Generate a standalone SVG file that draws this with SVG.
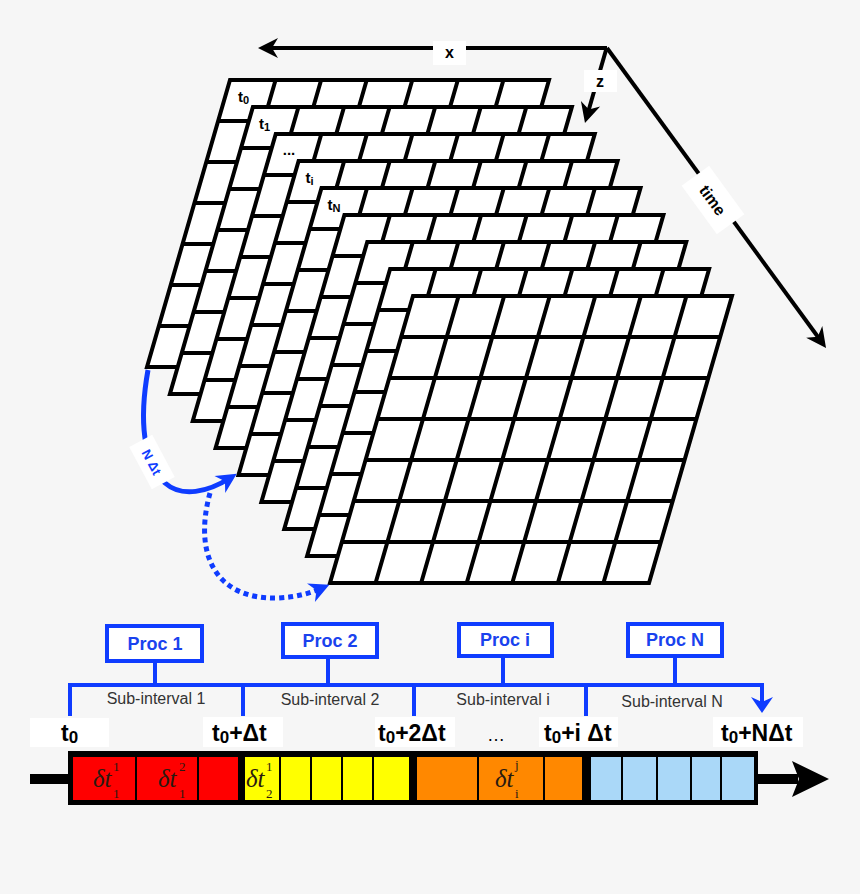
<svg xmlns="http://www.w3.org/2000/svg" xmlns:xlink="http://www.w3.org/1999/xlink" width="860" height="894" viewBox="0 0 860 894">
<style>
.bg{fill:#f6f6f6}
.sheet{fill:#fff;stroke:#000;stroke-width:4;stroke-linejoin:miter}
.gridl{fill:none;stroke:#000;stroke-width:4}
.lbl{font-family:"Liberation Sans",Arial,sans-serif;font-weight:bold;font-size:15px;fill:#000}
.ax{fill:none;stroke:#000;stroke-width:4}
.axt{font-family:"Liberation Sans",Arial,sans-serif;font-weight:bold;font-size:16px;fill:#000;text-anchor:middle}
.wbox{fill:#fff}
.blue{fill:none;stroke:#0f3cff;stroke-width:5}
.proc{fill:#fff;stroke:#0f3cff;stroke-width:4}
.proct{font-family:"Liberation Sans",Arial,sans-serif;font-weight:bold;font-size:18px;fill:#1a42ee;text-anchor:middle}
.sub{font-family:"Liberation Sans",Arial,sans-serif;font-size:16px;fill:#333;text-anchor:middle}
.tl{font-family:"Liberation Sans",Arial,sans-serif;font-weight:bold;font-size:23px;fill:#000}
.dt{font-family:"Liberation Serif","Times New Roman",serif;font-style:italic;font-size:25px;fill:#2a1a10}
.dts{font-family:"Liberation Serif","Times New Roman",serif;font-size:13px;fill:#2a1a10}
</style>
<defs>
<marker id="ahK" markerUnits="userSpaceOnUse" viewBox="-14 -12 24 24" markerWidth="24" markerHeight="24" refX="0" refY="0" orient="auto">
<path d="M8,0 L-12,-10 L-6,0 L-12,10 Z" fill="#000"/>
</marker>
<marker id="ahB" markerUnits="userSpaceOnUse" viewBox="-14 -12 24 24" markerWidth="24" markerHeight="24" refX="0" refY="0" orient="auto">
<path d="M8,0 L-12,-10 L-6,0 L-12,10 Z" fill="#0f3cff"/>
</marker>
<g id="grid">
<polygon class="sheet" points="0,0 319,0 236,287 -83,287"/>
<path class="gridl" d="M-11.86,41H307.14M-23.71,82H295.29M-35.57,123H283.43M-47.43,164H271.57M-59.29,205H259.71M-71.14,246H247.86M45.57,0L-37.43,287M91.14,0L8.14,287M136.71,0L53.71,287M182.29,0L99.29,287M227.86,0L144.86,287M273.43,0L190.43,287"/>
</g>
</defs>
<rect class="bg" x="0" y="0" width="860" height="894"/>

<g id="layer-t0" transform="translate(230,80)"><use xlink:href="#grid"/><text class="lbl" x="8" y="22">t<tspan font-size="11" dy="2">0</tspan></text></g>
<g id="layer-t1" transform="translate(252.9,107)"><use xlink:href="#grid"/><text class="lbl" x="6" y="22">t<tspan font-size="11" dy="2">1</tspan></text></g>
<g id="layer-dots" transform="translate(275.75,134)"><use xlink:href="#grid"/><text class="lbl" x="7" y="21">...</text></g>
<g id="layer-ti" transform="translate(298.6,161)"><use xlink:href="#grid"/><text class="lbl" x="7" y="22">t<tspan font-size="11" dy="2">i</tspan></text></g>
<g id="layer-tN" transform="translate(321.5,188)"><use xlink:href="#grid"/><text class="lbl" x="6" y="22">t<tspan font-size="11" dy="2">N</tspan></text></g>
<g id="layer-5" transform="translate(344.4,215)"><use xlink:href="#grid"/></g>
<g id="layer-6" transform="translate(367.25,242)"><use xlink:href="#grid"/></g>
<g id="layer-7" transform="translate(390.1,269)"><use xlink:href="#grid"/></g>
<g id="layer-8" transform="translate(413,296)"><use xlink:href="#grid"/></g>

<g id="axes">
<path class="ax" d="M607,48 L266,48" marker-end="url(#ahK)"/>
<path class="ax" d="M606,50 L587.2,115.3" marker-end="url(#ahK)"/>
<path class="ax" d="M607,48 L821.3,341.5" marker-end="url(#ahK)"/>
<rect class="wbox" x="433" y="41" width="33" height="24"/>
<text class="axt" x="449.5" y="58">x</text>
<rect class="wbox" x="584" y="70" width="33" height="22"/>
<text class="axt" x="600" y="87">z</text>
<g transform="translate(713,200) rotate(54)">
<rect class="wbox" x="-30" y="-17" width="60" height="34"/>
<text class="axt" x="0" y="6">time</text>
</g>
</g>

<g id="connectors">
<path class="blue" d="M148,370 C139,420 143,462 165,483 C182,498 208,492 230,478" marker-end="url(#ahB)"/>
<path class="blue" d="M210,493 C193,555 216,600 278,598 C296,597 308,594 322,588" stroke-dasharray="5,4" marker-end="url(#ahB)"/>
<g transform="translate(152,462) rotate(62)">
<rect class="wbox" x="-24" y="-13" width="48" height="26"/>
<text x="0" y="5" text-anchor="middle" font-family="Liberation Sans,Arial,sans-serif" font-weight="bold" font-size="13" fill="#0f3cff">N Δt</text>
</g>
<path fill="none" stroke="#0f3cff" stroke-width="4" d="M155,661V685M328,657V685M503,656V685M675,656V685M70,716V685H762V703M243,685V716M414,685V716M586,685V716"/>
<polygon fill="#0f3cff" points="762,713 751,697 762,702 773,697"/>
</g>

<g id="proc-1"><rect class="proc" x="107" y="626" width="95" height="35"/><text class="proct" x="155" y="650">Proc 1</text></g>
<g id="proc-2"><rect class="proc" x="283" y="624" width="94" height="33"/><text class="proct" x="330" y="647">Proc 2</text></g>
<g id="proc-i"><rect class="proc" x="459" y="624" width="93" height="32"/><text class="proct" x="505" y="646">Proc i</text></g>
<g id="proc-N"><rect class="proc" x="628" y="624" width="94" height="32"/><text class="proct" x="675" y="646">Proc N</text></g>

<g id="subintervals">
<text class="sub" x="156" y="704">Sub-interval 1</text>
<text class="sub" x="330" y="705">Sub-interval 2</text>
<text class="sub" x="503" y="705">Sub-interval i</text>
<text class="sub" x="672" y="707">Sub-interval N</text>
</g>

<g id="time-labels">
<rect class="wbox" x="30" y="718" width="79" height="29"/>
<text class="tl" x="61" y="741">t<tspan font-size="17" dy="2">0</tspan></text>
<rect class="wbox" x="203" y="717" width="80" height="30"/>
<text class="tl" x="212" y="741">t<tspan font-size="17" dy="2">0</tspan><tspan dy="-2">+Δt</tspan></text>
<rect class="wbox" x="375" y="717" width="80" height="30"/>
<text class="tl" x="378" y="741">t<tspan font-size="17" dy="2">0</tspan><tspan dy="-2">+2Δt</tspan></text>
<text x="487" y="741" font-family="Liberation Sans,Arial,sans-serif" font-size="18" fill="#000">…</text>
<rect class="wbox" x="539" y="717" width="79" height="30"/>
<text class="tl" x="544" y="741">t<tspan font-size="17" dy="2">0</tspan><tspan dy="-2">+i Δt</tspan></text>
<rect class="wbox" x="713" y="717" width="90" height="30"/>
<text class="tl" x="721" y="741">t<tspan font-size="17" dy="2">0</tspan><tspan dy="-2">+NΔt</tspan></text>
</g>

<g id="timeline">
<rect x="30" y="774" width="40" height="10" fill="#000"/>
<rect x="756" y="774" width="42" height="10" fill="#000"/>
<polygon points="829,779 792,761 799,779 792,797" fill="#000"/>
<rect x="68" y="751" width="690" height="54" fill="#000"/>
<g fill="#ff0000">
<rect x="73" y="757" width="62" height="43"/><rect x="137" y="757" width="60" height="43"/><rect x="199" y="757" width="39" height="43"/>
</g>
<g fill="#ffff00">
<rect x="245" y="757" width="34" height="43"/><rect x="281" y="757" width="29" height="43"/><rect x="312" y="757" width="29" height="43"/><rect x="343" y="757" width="29" height="43"/><rect x="374" y="757" width="35" height="43"/>
</g>
<g fill="#ff8800">
<rect x="417" y="757" width="60" height="43"/><rect x="479" y="757" width="64" height="43"/><rect x="545" y="757" width="37" height="43"/>
</g>
<g fill="#aad8f8">
<rect x="591" y="757" width="30" height="43"/><rect x="623" y="757" width="33" height="43"/><rect x="658" y="757" width="32" height="43"/><rect x="692" y="757" width="28" height="43"/><rect x="722" y="757" width="32" height="43"/>
</g>
<text class="dt" x="93" y="787">δt</text><text class="dts" x="113" y="771">1</text><text class="dts" x="113" y="798">1</text>
<text class="dt" x="158" y="787">δt</text><text class="dts" x="179" y="771">2</text><text class="dts" x="179" y="798">1</text>
<text class="dt" x="246" y="787">δt</text><text class="dts" x="266" y="771">1</text><text class="dts" x="266" y="798">2</text>
<text class="dt" x="495" y="787">δt</text><text class="dts" x="515" y="769">j</text><text class="dts" x="515" y="798">i</text>
</g>
</svg>
